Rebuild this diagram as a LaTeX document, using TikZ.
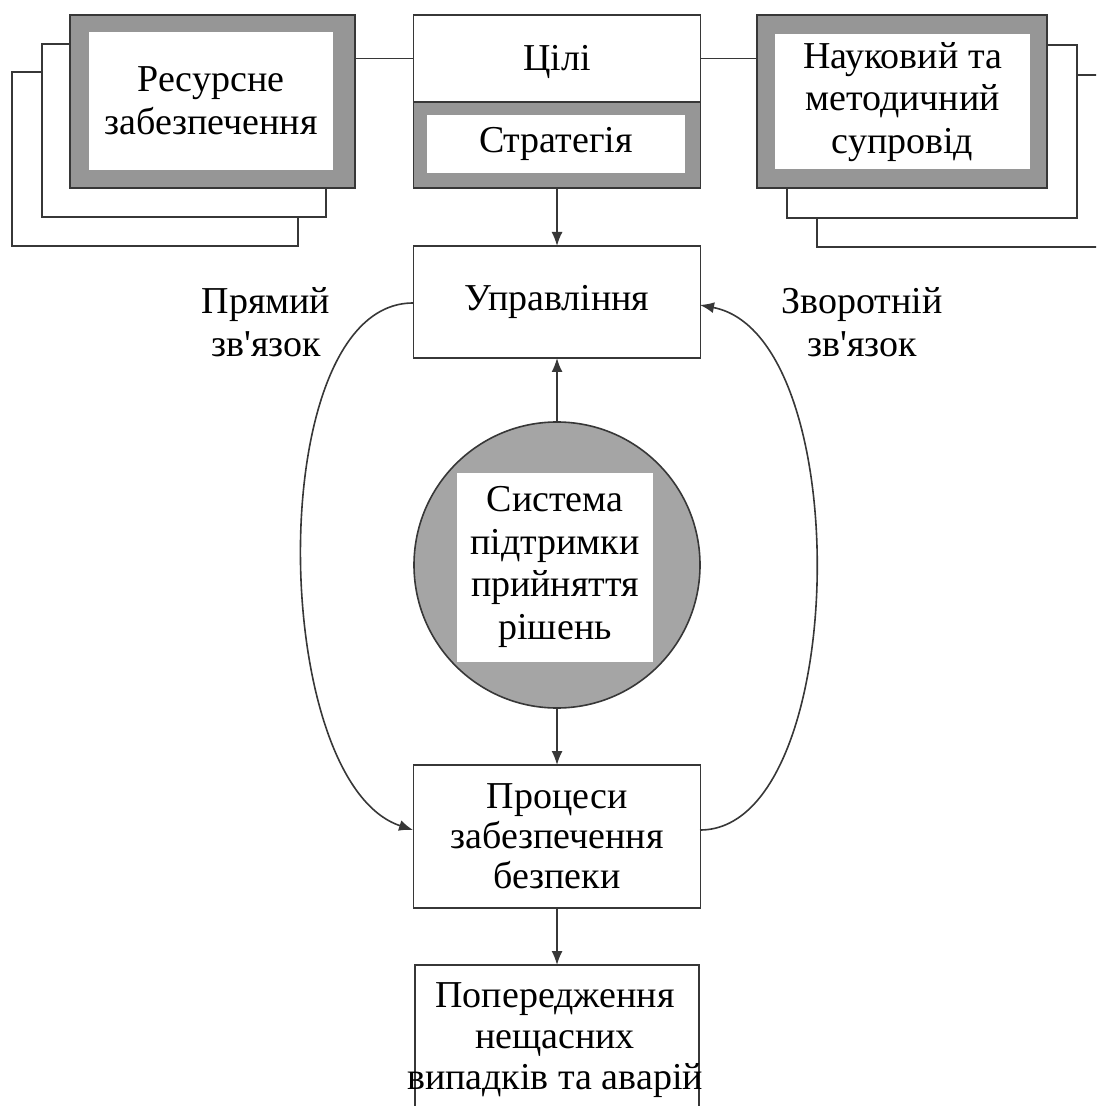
\documentclass[tikz,border=0pt]{standalone}
\usepackage{fontspec}
\setmainfont{Liberation Serif}
\usetikzlibrary{arrows.meta}
\definecolor{frame}{RGB}{150,150,150}
\definecolor{circ}{RGB}{165,165,165}
\definecolor{edge}{RGB}{55,55,55}
\begin{document}
\begin{tikzpicture}[x=0.5pt,y=-0.5pt,
  every node/.style={inner sep=0pt, outer sep=0pt},
  txt/.style={font=\fontsize{19}{21.3}\selectfont, align=center, text=black},
  plainbox/.style={draw=edge, line width=0.8pt, fill=white},
  graybox/.style={draw=edge, line width=0.8pt, fill=frame},
  whitein/.style={fill=white},
  backrect/.style={draw=edge, line width=0.8pt, fill=white},
  conn/.style={draw=edge, line width=0.8pt},
  arr/.style={conn, -{Latex[length=7pt,width=5.5pt]}}
]
\useasboundingbox (0,0) rectangle (1096,1106);
\clip (0,0) rectangle (1096,1106);

% left stack
\draw[backrect] (12,72) rectangle (298,246);
\draw[backrect] (42,44) rectangle (326,217);
\node[graybox, minimum width=142.5pt, minimum height=86.5pt] (lf) at (212.5,101.5) {};
\node[whitein, minimum width=122pt, minimum height=69pt, txt] (li) at (211,101) {Ресурсне\\забезпечення};

% right stack
\draw[backrect] (1110,75) -- (817,75) -- (817,247) -- (1110,247);
\draw[backrect] (787,45) rectangle (1077,218);
\node[graybox, minimum width=145pt, minimum height=86.5pt] (rf) at (902,101.5) {};
\node[whitein, minimum width=127.5pt, minimum height=67.5pt, txt] (ri) at (902.5,102) {Науковий та\\методичний\\супровід};

% centre top
\node[plainbox, minimum width=143.5pt, minimum height=43.5pt] (cili) at (557,58.5) {};
\node[txt] (cilit) at (557,62) {Цілі};
\node[graybox, minimum width=143.5pt, minimum height=43pt] (strat) at (557,145) {};
\node[whitein, minimum width=129pt, minimum height=29pt, txt] (strati) at (556,144) {Стратегія};

\draw[conn] (lf.east |- cili.west) -- (cili.west);
\draw[conn] (cili.east) -- (rf.west |- cili.east);

% management
\node[plainbox, minimum width=143.5pt, minimum height=56pt, txt] (upr) at (557,302) {Управління};
\draw[arr] (strat.south) -- (upr.north);

% circle
\node[circle, draw=edge, line width=0.8pt, fill=circ, minimum size=143pt] (dss) at (557,565) {};
\node[whitein, minimum width=98pt, minimum height=94.5pt, txt] (dssi) at (555,567) {Система\\підтримки\\прийняття\\рішень};
\draw[arr] (dss.north) -- (upr.south);

% processes
\node[plainbox, minimum width=143.5pt, minimum height=71.5pt, txt, font=\fontsize{19}{20}\selectfont] (proc) at (557,836.5) {Процеси\\забезпечення\\безпеки};
\draw[arr] (dss.south) -- (proc.north);

% prevention (box cut by the page)
\node[minimum width=142pt, minimum height=76pt] (prev) at (557,1041) {};
\draw[conn] (prev.south west) -- (prev.north west) -- (prev.north east) -- (prev.south east);
\node[txt, font=\fontsize{19}{20.3}\selectfont] (prevt) at (555,1040) {Попередження\\нещасних\\випадків та аварій};
\draw[arr] (proc.south) -- (prev.north);

% feedback loops
\coordinate (uprL) at (413,303);
\coordinate (procL) at (413,830);
\coordinate (procR) at (700,830);
\coordinate (uprR) at (700,305);
\draw[arr] (uprL) .. controls (262,303) and (268,782) .. (procL);
\draw[arr] (procR) .. controls (850,830) and (858,335) .. (uprR);

\node[txt] (lbl1) at (266,322) {Прямий\\зв\textquotesingle язок};
\node[txt] (lbl2) at (862,322) {Зворотній\\зв\textquotesingle язок};
\end{tikzpicture}
\end{document}
